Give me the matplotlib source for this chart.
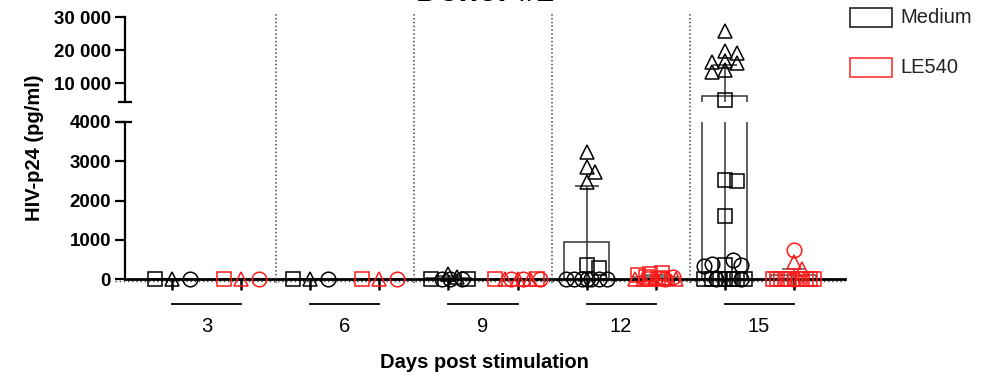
import numpy as np
import matplotlib
matplotlib.use('Agg')
import matplotlib.pyplot as plt
import matplotlib.transforms as mtransforms
from matplotlib.lines import Line2D
from matplotlib.patches import Rectangle

plt.rcParams['font.family'] = ['Liberation Sans', 'DejaVu Sans']

days = ['3', '6', '9', '12', '15']
groups = ['Medium', 'LE540']

# replicate values (pg/ml)
medium_squares = [[0], [0], [0, 0], [360, 280], [4850, 2510, 2500, 1615, 360, 0, 0, 0, 0, 0, 0, 0, 0]]
medium_triangles = [[0], [0], [140, 50], [3230, 2850, 2720, 2460],
                    [25800, 19700, 19000, 16800, 16400, 16000, 14000, 13400]]
medium_circles = [[0], [0], [0, 0, 0], [0, 0, 0, 0, 0, 0, 0], [490, 380, 360, 330, 0, 0]]
le540_squares = [[0], [0], [0, 0], [150, 120, 100, 60, 30, 0, 0], [0, 0, 0, 0, 0, 0, 0, 0, 0, 0]]
le540_triangles = [[0], [0], [0, 0, 0], [40, 20, 0, 0, 0], [440, 260, 0]]
le540_circles = [[0], [0], [0, 0, 0], [50, 0], [740, 0]]

# bar = mean, error bar = SD
medium_mean = [0, 0, 30, 950, 6000]
medium_sd = [0, 0, 50, 1410, 9400]
le540_mean = [0, 0, 0, 40, 100]
le540_sd = [0, 0, 0, 50, 150]

BREAK = 4250  # bottom of the upper segment

fig = plt.figure(figsize=(9.98, 3.78), dpi=100)
W, H = 998, 378
ax_top = fig.add_axes([125 / W, (H - 102) / H, 720 / W, 85 / H])
ax_bot = fig.add_axes([125 / W, (H - 279) / H, 720 / W, 157 / H])

xlim = (-0.594, 4.623)
for ax in (ax_top, ax_bot):
    ax.set_xlim(*xlim)
    ax.spines['top'].set_visible(False)
    ax.spines['right'].set_visible(False)
    ax.spines['left'].set_linewidth(1.6)
    ax.tick_params(axis='y', direction='out', length=7, width=1.6, labelsize=13.5, pad=3)
    ax.patch.set_visible(False)

ax_top.set_ylim(BREAK, 30000)
ax_top.spines['bottom'].set_visible(False)
ax_top.set_xticks([])
ax_top.set_yticks([10000, 20000, 30000])
ax_top.set_yticklabels(['10 000', '20 000', '30 000'], fontweight='bold', fontsize=13.5)

ax_bot.set_ylim(0, 4000)
ax_bot.set_yticks([0, 1000, 2000, 3000, 4000])
ax_bot.set_yticklabels(['0', '1000', '2000', '3000', '4000'], fontweight='bold', fontsize=13.5)
ax_bot.spines['bottom'].set_linewidth(2)

# break caps
for ax, yy in ((ax_top, 0), (ax_bot, 1)):
    ax.plot([-7 / 720, 7 / 720], [yy, yy], transform=ax.transAxes, color='black',
            lw=1.6, clip_on=False, solid_capstyle='butt')

offset = 0.25
x_med = np.arange(len(days)) - offset
x_le = np.arange(len(days)) + offset
ax_bot.set_xticks(np.concatenate([x_med, x_le]))
ax_bot.set_xticklabels([])
ax_bot.tick_params(axis='x', direction='out', length=8, width=1.8)

# separators between days
sep_tr = mtransforms.blended_transform_factory(ax_bot.transData, fig.transFigure)
for g in range(len(days) - 1):
    fig.add_artist(Line2D([g + 0.5, g + 0.5], [(H - 283) / H, (H - 12) / H], transform=sep_tr,
                          color='#444444', lw=1.1, ls=(0, (1, 1.5))))

# dotted baseline just under the axis
ax_bot.plot([xlim[0] - 0.07, xlim[1]], [-50, -50], color='#444444', lw=1, ls=(0, (1, 2)),
            clip_on=False, zorder=1)

# group labels with underline
lab_tr = mtransforms.blended_transform_factory(ax_bot.transData, ax_bot.transAxes)
for i, d in enumerate(days):
    ax_bot.plot([x_med[i], x_le[i]], [-25 / 157, -25 / 157], transform=lab_tr, color='black',
                lw=1.3, clip_on=False)
    ax_bot.text(i, -48 / 157, d, transform=lab_tr, ha='center', va='center', fontsize=14.5)


def ypx(v):
    if v <= BREAK:
        return 157 * v / 4000
    return 177 + (v - BREAK) * 85 / (30000 - BREAK)


def swarm(points, step=0.03, limit=0.165, min_px=9):
    placed, xs = [], []
    ks = [0]
    for k in range(1, 12):
        ks += [k, -k]
    for v, pref in points:
        best, best_d = pref, -1
        for k in ks:
            c = pref + k * step
            if abs(c) > limit:
                continue
            dmin = min([np.hypot((c - px) * 138, ypx(v) - py) for px, py in placed], default=1e9)
            if dmin >= min_px:
                best = c
                break
            if dmin > best_d:
                best, best_d = c, dmin
        placed.append((best, ypx(v)))
        xs.append(best)
    return xs


def draw_group(xpos, means, sds, squares, triangles, circles, color, barcolor):
    for ax in (ax_top, ax_bot):
        ax.bar(xpos, means, width=0.33, fill=False, edgecolor=barcolor, lw=1.1, zorder=2)
        ax.errorbar(xpos, means, yerr=sds, fmt='none', ecolor=barcolor, elinewidth=1.1,
                    capsize=8.5, capthick=1.1, zorder=2)
    for i, x0 in enumerate(xpos):
        flat = max(squares[i] + triangles[i] + circles[i]) < 500
        side = 0.13 if flat else 0.0
        pts = [(v, 0.0, '^') for v in triangles[i]] + \
              [(v, -side, 's') for v in squares[i]] + \
              [(v, side, 'o') for v in circles[i]]
        xs = swarm([(v, p) for v, p, m in pts])
        for (v, p, m), dx in zip(pts, xs):
            ax = ax_top if v > BREAK else ax_bot
            ax.plot(x0 + dx, v, marker=m, ms=10.5 if m != 's' else 10, mfc='none',
                    mec=color, mew=1.1, ls='none', clip_on=False, zorder=3)


draw_group(x_med, medium_mean, medium_sd, medium_squares, medium_triangles, medium_circles,
           'black', '#333333')
draw_group(x_le, le540_mean, le540_sd, le540_squares, le540_triangles, le540_circles,
           '#ff1a1a', '#555555')

# titles and axis labels (title is cut by the top edge, as in the source)
fig.text(485 / W, (H - 1) / H, 'Donor #2', ha='center', va='baseline', fontsize=23,
         fontweight='bold')
fig.text(35 / W, (H - 148) / H, 'HIV-p24 (pg/ml)', rotation=90, ha='center', va='center',
         fontsize=14.5, fontweight='bold')
fig.text(484 / W, (H - 363) / H, 'Days post stimulation', ha='center', va='center',
         fontsize=14.5, fontweight='bold')

# legend
for j, (name, col) in enumerate(zip(groups, ['#222222', '#ff3333'])):
    y0 = 8 + 50 * j
    fig.add_artist(Rectangle((850 / W, (H - y0 - 19) / H), 42 / W, 19 / H, fill=False,
                             edgecolor=col, lw=1.2, transform=fig.transFigure))
    fig.text(900 / W, (H - y0 - 9.5) / H, name, ha='left', va='center', fontsize=14.5,
             color='#222222')

fig.savefig('out.png', dpi=100)
